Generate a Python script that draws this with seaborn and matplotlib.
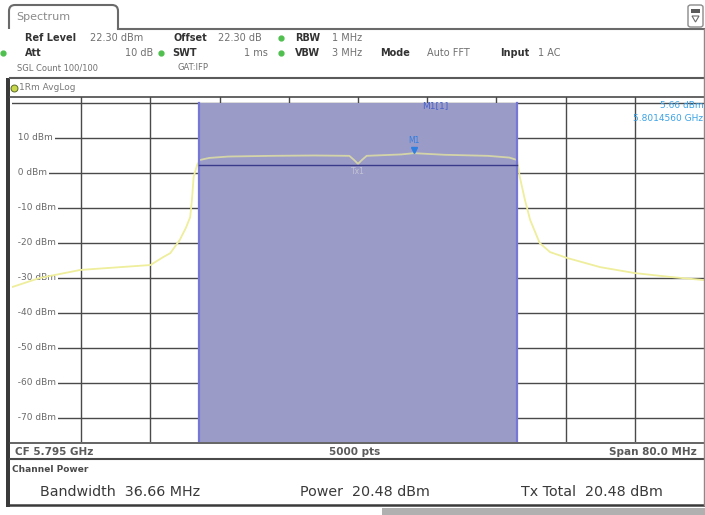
import matplotlib
matplotlib.use("Agg")
import matplotlib.pyplot as plt
import matplotlib.transforms as mtransforms
from matplotlib.lines import Line2D
from matplotlib.patches import Rectangle, FancyBboxPatch, Polygon, PathPatch
from matplotlib.path import Path
import seaborn as sns
import pandas as pd

# ---------------- data ----------------
freq_offset_mhz = [-40, -36.8, -32.1, -27.5, -24.0, -22.5, -21.7, -20.6, -19.9, -19.4,
                   -19.2, -19.0, -18.6, -18.3, -17.2, -15, -10, -5, -1, -0.4, 0, 0.4,
                   1, 5, 6.46, 10, 15, 17.5, 18.4, 18.7, 19.3, 19.9, 21.0, 22.2, 24.2,
                   28.0, 32.0, 36.1, 40]
level_dbm = [-32.6, -30.0, -27.7, -26.9, -26.3, -24.0, -22.9, -19.1, -15.7, -12.6,
             -7.7, -1.1, 2.3, 3.7, 4.3, 4.7, 4.9, 5.0, 4.9, 3.6, 2.6, 3.6,
             4.9, 5.3, 5.66, 5.2, 4.9, 4.4, 3.7, -1.1, -7.7, -13.4, -20.0, -22.6, -24.3,
             -26.9, -28.6, -29.7, -30.6]
ytick_levels = [10, 0, -10, -20, -30, -40, -50, -60, -70]
ytick_labels = ["10 dBm", "0 dBm", "-10 dBm", "-20 dBm", "-30 dBm", "-40 dBm",
                "-50 dBm", "-60 dBm", "-70 dBm"]
grid_levels = [20, 10, 0, -10, -20, -30, -40, -50, -60, -70]
grid_freqs = [-32, -24, -16, -8, 0, 8, 16, 24, 32]
channel_bw_mhz = 36.66
channel_level_dbm = 2.3
marker_freq = 6.46
marker_level = 5.66

W, H = 705, 515
fig = plt.figure(figsize=(W / 100, H / 100), dpi=100)
fig.patch.set_facecolor("white")


def fx(x):
    return x / W


def fy(y):
    return 1 - y / H


def T(x, y, s, **kw):
    kw.setdefault("va", "center")
    kw.setdefault("ha", "left")
    kw.setdefault("fontsize", 7)
    kw.setdefault("color", "#707070")
    fig.text(fx(x), fy(y), s, **kw)


def L(x0, y0, x1, y1, color="#505050", lw=1.0):
    fig.add_artist(Line2D([fx(x0), fx(x1)], [fy(y0), fy(y1)],
                          transform=fig.transFigure, color=color, lw=lw))


# ---------------- main plot axes ----------------
ax = fig.add_axes([fx(12), fy(442), (704 - 12) / W, (442 - 97) / H])
ax.set_xlim(-40, 40)
ax.set_ylim(-76.86, 21.71)
ax.set_facecolor("white")
for sp in ax.spines.values():
    sp.set_visible(False)

for g in grid_levels:
    ax.axhline(g, color="#4a4a4a", lw=1.0, zorder=1)
for g in grid_freqs:
    ax.axvline(g, color="#4a4a4a", lw=1.0, zorder=1)

trans = mtransforms.blended_transform_factory(ax.transAxes, ax.transData)
for lv, lab in zip(ytick_levels, ytick_labels):
    ax.text(0.0, lv, "  " + lab, transform=trans, fontsize=6.5, color="#6a6a6a",
            va="center", ha="left", zorder=2,
            bbox=dict(facecolor="white", edgecolor="none", pad=1.5))

half = channel_bw_mhz / 2
ybot = -76.86
ax.add_patch(Rectangle((-half, ybot), 2 * half, 20 - ybot, facecolor="#9b9bc8",
                       edgecolor="none", zorder=3))

df = pd.DataFrame({"f": freq_offset_mhz, "p": level_dbm})
sns.lineplot(data=df, x="f", y="p", ax=ax, color="#eeee9c", lw=1.3, zorder=4,
             legend=False)
ax.set_xlabel("")
ax.set_ylabel("")
ax.set_xticks([])
ax.set_yticks([])

# semi transparent overlay tones the trace inside the channel
ax.add_patch(Rectangle((-half, ybot), 2 * half, 20 - ybot, facecolor="#9b9bc8",
                       edgecolor="none", alpha=0.3, zorder=5))
ax.plot([-half, -half], [ybot, 20], color="#7676d6", lw=1.6, zorder=6)
ax.plot([half, half], [ybot, 20], color="#7676d6", lw=1.6, zorder=6)
ax.plot([-half, half], [channel_level_dbm, channel_level_dbm], color="#3a3a8a",
        lw=1.0, zorder=6)
ax.text(0, channel_level_dbm - 2.0, "Tx1", fontsize=5.5, color="#c4c4d4",
        ha="center", va="center", zorder=6)

# marker M1
ax.plot([marker_freq], [marker_level + 1.0], marker="v", color="#2f7fe0",
        markersize=4, zorder=7, linestyle="none")
ax.text(marker_freq, marker_level + 3.5, "M1", fontsize=5.5, color="#2f7fe0",
        ha="center", va="center", zorder=7)
ax.text(8.9, 19.2, "M1[1]", fontsize=6.5, color="#4a62c8", ha="center", va="center",
        zorder=7)
ax.text(0.999, 19.2, "5.66 dBm", transform=trans, fontsize=6.5, color="#3aa2e6",
        ha="right", va="center", zorder=7)
ax.text(0.999, 15.6, "5.8014560 GHz", transform=trans, fontsize=6.5, color="#3aa2e6",
        ha="right", va="center", zorder=7)

# ---------------- frame / header ----------------
r = 6
verts = [(9, 29), (9, 5 + r), (9, 5), (9 + r, 5), (118 - r, 5), (118, 5),
         (118, 5 + r), (118, 29)]
codes = [Path.MOVETO, Path.LINETO, Path.CURVE3, Path.CURVE3, Path.LINETO,
         Path.CURVE3, Path.CURVE3, Path.LINETO]
tab_path = Path([(fx(x), fy(y)) for x, y in verts], codes)
fig.add_artist(PathPatch(tab_path, transform=fig.transFigure, facecolor="none",
                         edgecolor="#6a6a6a", lw=1.5))
L(118, 29, 704, 29, color="#6a6a6a", lw=1.5)
T(16, 17, "Spectrum", fontsize=8, color="#8a8a8a")

icon = FancyBboxPatch((fx(688), fy(27)), fx(703) - fx(688), fy(5) - fy(27),
                      boxstyle="round,pad=0,rounding_size=0.004",
                      transform=fig.transFigure, facecolor="white",
                      edgecolor="#8a8a8a", lw=1.0)
fig.add_artist(icon)
fig.add_artist(Rectangle((fx(691), fy(13)), fx(700) - fx(691), fy(9) - fy(13),
                         transform=fig.transFigure, facecolor="#5a5a5a",
                         edgecolor="none"))
fig.add_artist(Polygon([[fx(692), fy(16)], [fx(699), fy(16)], [fx(695.5), fy(22)]],
                       closed=True, transform=fig.transFigure, facecolor="none",
                       edgecolor="#6a6a6a", lw=0.8))

bold = dict(fontweight="bold", color="#333333")
T(25, 38, "Ref Level", **bold)
T(90, 38, "22.30 dBm")
T(173, 38, "Offset", **bold)
T(218, 38, "22.30 dB")
T(295, 38, "RBW", **bold)
T(332, 38, "1 MHz")
T(25, 53, "Att", **bold)
T(153, 53, "10 dB", ha="right")
T(172, 53, "SWT", **bold)
T(268, 53, "1 ms", ha="right")
T(295, 53, "VBW", **bold)
T(332, 53, "3 MHz")
T(380, 53, "Mode", **bold)
T(427, 53, "Auto FFT")
T(500, 53, "Input", **bold)
T(538, 53, "1 AC")
for (bx, by) in [(281, 38), (3, 53), (161, 53), (281, 53)]:
    fig.add_artist(Line2D([fx(bx)], [fy(by)], transform=fig.transFigure,
                          marker="o", markersize=3.5, color="#4fc04f",
                          linestyle="none"))
T(17, 68, "SGL Count 100/100", fontsize=6)
T(178, 68, "GAT:IFP", fontsize=6)
L(10, 78, 704, 78, color="#5a5a5a", lw=1.5)

fig.add_artist(Line2D([fx(14)], [fy(88)], transform=fig.transFigure, marker="o",
                      markersize=5, markerfacecolor="#c8d84a",
                      markeredgecolor="#5a6a2a", markeredgewidth=0.7,
                      linestyle="none"))
T(19, 88, "1Rm AvgLog", fontsize=6.5, color="#7a7a7a")
L(10, 97, 704, 97, color="#4a4a4a", lw=1.2)

# ---------------- bottom ----------------
L(10, 443, 704, 443, color="#4a4a4a", lw=1.2)
st = dict(fontsize=7.5, fontweight="bold", color="#5a5a5a")
T(15, 452, "CF 5.795 GHz", **st)
T(355, 452, "5000 pts", ha="center", **st)
T(697, 452, "Span 80.0 MHz", ha="right", **st)
L(10, 459, 704, 459, color="#4a4a4a", lw=1.5)
T(12, 469, "Channel Power", fontsize=6.5, fontweight="bold", color="#4a4a4a")
T(40, 492, "Bandwidth  36.66 MHz", fontsize=10.3, color="#3a3a3a")
T(300, 492, "Power  20.48 dBm", fontsize=10.3, color="#3a3a3a")
T(521, 492, "Tx Total  20.48 dBm", fontsize=10.3, color="#3a3a3a")
L(10, 505, 704, 505, color="#3a3a3a", lw=1.8)
fig.add_artist(Rectangle((fx(382), fy(515)), fx(705) - fx(382), fy(508) - fy(515),
                         transform=fig.transFigure, facecolor="#b0b0b0",
                         edgecolor="none"))

fig.add_artist(Rectangle((fx(6), fy(507)), fx(10) - fx(6), fy(78) - fy(507),
                         transform=fig.transFigure, facecolor="#3a3a3a",
                         edgecolor="none"))
L(704, 29, 704, 505, color="#8a8a8a", lw=1.0)

fig.savefig("out.png", dpi=100)
